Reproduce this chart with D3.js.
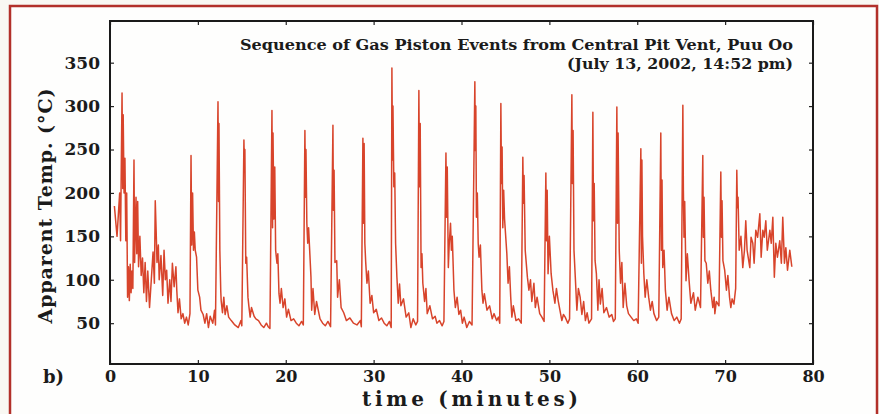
<!DOCTYPE html>
<html>
<head>
<meta charset="utf-8">
<script src="https://cdn.jsdelivr.net/npm/d3@7"></script>
<style>
  html, body { margin: 0; padding: 0; background: #f9f8f3; }
  svg { display: block; }
  text { font-family: "DejaVu Serif", "Liberation Serif", serif; font-weight: bold; fill: #1b1b1b; }
</style>
</head>
<body>
<svg id="chart" width="879" height="414"></svg>
<script>
// ---- data ----
const titleLine1 = "Sequence of Gas Piston Events from Central Pit Vent, Puu Oo";
const titleLine2 = "(July 13, 2002, 14:52 pm)";
const xLabel = "time (minutes)";
const yLabel = "Apparent Temp. (°C)";
const panelTag = "b)";
const xTicks = [0, 10, 20, 30, 40, 50, 60, 70, 80];
const yTicks = [50, 100, 150, 200, 250, 300, 350];

// time in minutes
const minutes = [
  0.5,0.8,1.1,1.2,
  1.37,1.45,1.5,1.6,1.7,1.8,1.9,
  2.0,2.1,2.2,2.3,2.4,2.5,2.6,
  2.73,2.8,2.96,3.05,3.15,3.25,3.4,3.55,3.7,3.85,4.0,4.15,4.3,4.5,4.7,
  4.9,5.05,5.15,5.25,5.35,5.5,5.6,5.8,6.0,6.15,6.3,6.45,6.6,6.8,6.94,7.1,7.3,7.5,7.6,7.74,7.9,8.1,8.3,8.5,8.7,8.9,9.1,
  9.22,9.3,9.4,9.5,9.6,9.7,9.85,10.0,10.2,10.35,10.6,10.8,11.0,11.2,11.4,11.7,11.9,12.0,
  12.29,12.35,12.4,12.5,12.6,12.65,12.8,12.95,13.1,13.3,13.5,13.8,14.2,14.6,14.9,15.0,
  15.24,15.3,15.35,15.45,15.55,15.7,15.8,15.95,16.1,16.4,16.6,16.9,17.2,17.5,17.8,18.0,18.2,
  18.43,18.5,18.55,18.65,18.75,18.85,19.0,19.1,19.23,19.35,19.5,19.7,19.9,20.1,20.3,20.6,20.9,21.2,21.5,21.8,22.0,
  22.18,22.25,22.3,22.4,22.5,22.6,22.87,22.95,23.1,23.3,23.5,23.9,24.2,24.5,24.8,25.1,
  25.37,25.42,25.5,25.6,25.8,25.9,26.1,26.3,26.6,26.9,27.3,27.7,28.1,28.5,28.6,
  28.78,28.85,28.92,29.0,29.1,29.24,29.4,29.6,29.8,30.0,30.3,30.6,30.9,31.2,31.5,31.8,32.0,
  32.08,32.15,32.2,32.3,32.4,32.5,32.65,32.8,32.95,33.1,33.4,33.7,34.0,34.24,34.5,34.8,35.0,
  35.15,35.22,35.3,35.4,35.5,35.6,35.8,35.95,36.1,36.4,36.7,37.0,37.2,37.5,37.8,38.0,
  38.23,38.3,38.38,38.5,38.6,38.75,38.85,38.95,39.14,39.3,39.5,39.7,39.9,40.1,40.3,40.6,40.9,41.2,
  41.52,41.57,41.63,41.7,41.8,41.9,42.0,42.15,42.32,42.45,42.6,42.9,43.2,43.5,43.7,44.0,44.2,44.35,
  44.48,44.55,44.62,44.7,44.8,44.9,45.16,45.3,45.45,45.6,45.73,45.9,46.2,46.5,46.8,
  46.98,47.05,47.12,47.25,47.5,47.67,47.85,48.0,48.24,48.4,48.6,48.9,49.15,49.4,
  49.6,49.67,49.75,49.85,50.0,50.2,50.4,50.63,50.8,51.0,51.2,51.42,51.6,51.8,52.1,52.3,
  52.56,52.62,52.7,52.8,52.95,53.13,53.3,53.5,53.7,53.9,54.1,54.3,54.5,54.8,
  54.95,55.02,55.1,55.2,55.35,55.52,55.65,55.8,56.0,56.2,56.5,56.8,57.1,57.3,57.5,
  57.68,57.75,57.82,57.95,58.1,58.25,58.4,58.6,58.8,59.0,59.3,59.6,59.9,60.1,
  60.41,60.47,60.53,60.6,60.75,60.9,61.09,61.3,61.5,61.7,61.9,62.2,62.45,
  62.68,62.75,62.82,62.9,63.05,63.2,63.4,63.6,63.9,64.2,64.5,64.8,65.0,
  65.19,65.25,65.32,65.4,65.55,65.7,65.9,66.1,66.4,66.6,66.9,67.2,
  67.46,67.52,67.6,67.7,67.85,68.03,68.2,68.37,68.6,68.75,68.83,69.0,69.3,
  69.51,69.58,69.65,69.75,69.95,70.15,70.31,70.5,70.65,70.8,71.0,71.2,
  71.33,71.4,71.47,71.6,71.8,72.01,72.2,72.35,72.5,72.81,72.95,73.15,73.3,73.49,73.7,73.95,74.1,74.29,74.45,74.63,74.8,75.09,75.25,75.43,75.6,75.77,75.95,76.22,76.4,76.56,76.75,76.91,77.1,77.36,77.59
];

// apparent temperature in °C
const tempC = [
  185,150,200,145,
  315,205,290,200,240,145,200,
  80,115,76,118,85,110,90,
  238,120,195,130,190,115,150,105,125,85,120,75,110,68,100,
  132,96,191,157,120,140,100,128,82,134,100,111,73,100,75,119,92,115,88,62,78,55,61,50,57,48,61,
  243,140,200,134,155,134,126,88,80,65,60,50,61,45,58,50,65,48,
  305,190,280,134,88,76,62,80,60,70,57,53,48,45,53,47,
  261,226,250,119,126,80,70,57,68,58,55,53,48,45,50,46,44,
  295,160,269,170,230,134,119,130,84,73,90,68,78,57,66,53,55,50,47,52,48,
  272,195,250,165,142,160,103,65,90,60,75,55,50,47,52,46,
  278,180,226,120,122,80,100,68,62,53,56,50,48,53,46,
  263,165,257,142,120,96,110,73,82,62,66,53,56,50,47,52,45,
  344,238,300,207,223,142,103,73,95,70,78,57,62,45,55,48,52,
  318,207,280,114,130,96,75,90,61,70,55,58,50,53,47,52,
  246,172,230,114,140,165,134,150,88,68,80,60,65,50,57,45,52,48,
  328,249,300,172,200,142,126,140,88,73,84,65,70,55,61,53,57,50,
  303,211,253,160,203,170,130,96,115,80,57,70,53,55,50,
  241,188,220,134,103,88,100,75,96,68,80,61,57,52,
  223,145,203,107,150,107,88,73,90,76,65,53,60,57,50,55,
  313,211,272,134,103,65,90,80,60,75,53,62,50,55,
  293,168,211,122,107,65,100,72,90,62,68,57,60,52,55,
  299,165,269,134,96,120,68,96,70,61,57,53,55,50,
  251,119,238,150,107,80,100,80,65,75,61,53,57,
  269,134,215,114,134,88,65,80,61,53,57,50,55,
  301,203,149,190,99,130,99,73,85,65,80,68,
  243,149,195,122,119,96,110,88,68,80,61,75,70,
  224,149,191,122,111,88,105,80,68,78,72,90,
  226,183,195,134,150,114,134,168,134,114,149,142,119,157,149,176,126,157,149,168,134,157,142,172,103,142,126,145,119,172,119,137,111,134,115
];

// ---- drawing ----
const svg = d3.select("#chart");
const W = 879, H = 414;
const plot = { left: 110, right: 813, top: 21, bottom: 364 };

svg.append("rect").attr("x", 0).attr("y", 0).attr("width", W).attr("height", H).attr("fill", "#f9f8f3");
svg.append("rect").attr("x", 10).attr("y", 6).attr("width", 867).attr("height", 420)
  .attr("fill", "#fefefd").attr("stroke", "#b2302a").attr("stroke-width", 2.5);

const x = d3.scaleLinear().domain([0, 80]).range([plot.left, plot.right]);
const y = d3.scaleLinear().domain([3, 398]).range([plot.bottom, plot.top]);

const n = Math.min(minutes.length, tempC.length);
const series = d3.range(n).map(i => ({ t: minutes[i], v: tempC[i] }));

const line = d3.line().x(d => x(d.t)).y(d => y(d.v));
svg.append("path").datum(series)
  .attr("d", line)
  .attr("fill", "none")
  .attr("stroke", "#d8442b")
  .attr("stroke-width", 1.5)
  .attr("stroke-linejoin", "round");

// axes
const fontAxis = 16;
const gx = svg.append("g").attr("transform", `translate(0,${plot.bottom})`)
  .call(d3.axisBottom(x).tickValues(xTicks).tickSize(-4).tickSizeOuter(0).tickPadding(7).tickFormat(d3.format("d")));
const gy = svg.append("g").attr("transform", `translate(${plot.left},0)`)
  .call(d3.axisLeft(y).tickValues(yTicks).tickSize(-4).tickSizeOuter(0).tickPadding(10).tickFormat(d3.format("d")));
const gt = svg.append("g").attr("transform", `translate(0,${plot.top})`)
  .call(d3.axisTop(x).tickValues(xTicks).tickSize(-4).tickSizeOuter(0).tickFormat(""));
const gr = svg.append("g").attr("transform", `translate(${plot.right},0)`)
  .call(d3.axisRight(y).tickValues(yTicks).tickSize(-4).tickSizeOuter(0).tickFormat(""));

[gx, gy, gt, gr].forEach(g => {
  g.select(".domain").remove();
  g.selectAll(".tick line").attr("stroke", "#222").attr("stroke-width", 1.2);
  g.selectAll("text").style("font-family", '"DejaVu Serif", serif').style("font-weight", "bold")
    .style("font-size", fontAxis + "px").attr("fill", "#1b1b1b");
});
gy.selectAll("text").style("font-size", "17px");

// plot frame
svg.append("rect").attr("x", plot.left).attr("y", plot.top)
  .attr("width", plot.right - plot.left).attr("height", plot.bottom - plot.top)
  .attr("fill", "none").attr("stroke", "#1a1a1a").attr("stroke-width", 2);

// titles
svg.append("text").attr("x", 793).attr("y", 50).attr("text-anchor", "end")
  .attr("font-size", 15).attr("textLength", 553).attr("lengthAdjust", "spacingAndGlyphs").text(titleLine1);
svg.append("text").attr("x", 793).attr("y", 69).attr("text-anchor", "end")
  .attr("font-size", 15).attr("textLength", 226).attr("lengthAdjust", "spacingAndGlyphs").text(titleLine2);

svg.append("text").attr("x", 470).attr("y", 406).attr("text-anchor", "middle")
  .attr("font-size", 20).attr("textLength", 216).attr("lengthAdjust", "spacing").text(xLabel);

svg.append("text").attr("transform", "translate(52,206) rotate(-90)").attr("text-anchor", "middle")
  .attr("font-size", 19).attr("textLength", 235).attr("lengthAdjust", "spacing").text(yLabel);

svg.append("text").attr("x", 43).attr("y", 383).attr("font-size", 18).text(panelTag);
</script>
</body>
</html>
